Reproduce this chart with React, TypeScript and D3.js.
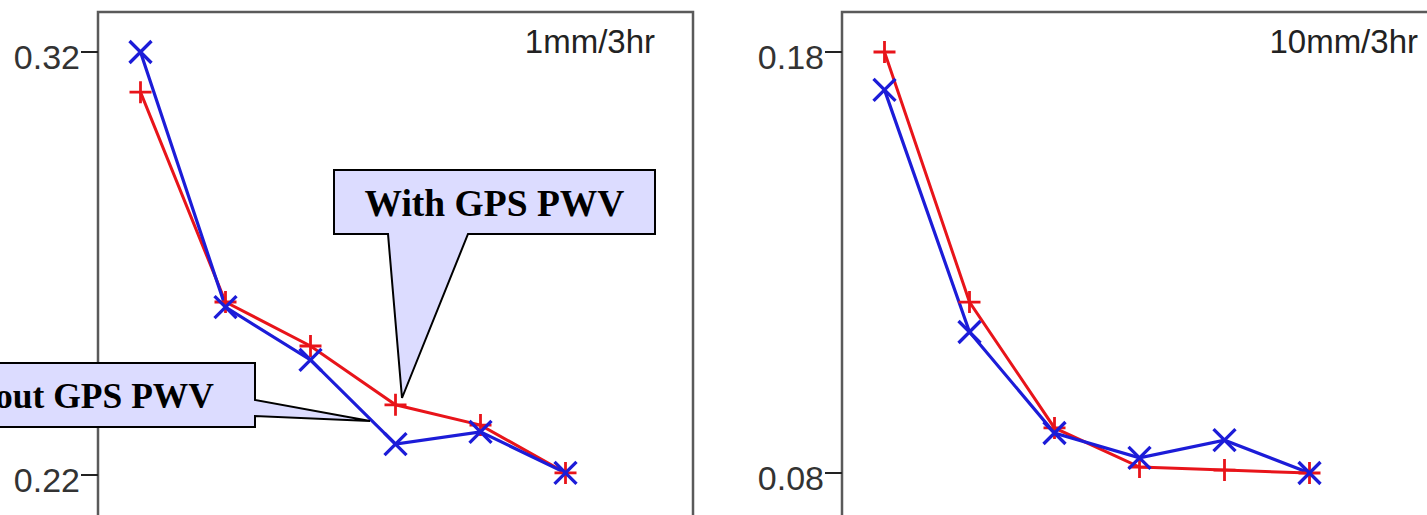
import React from "react";
import * as d3 from "d3";

const categories = [1, 2, 3, 4, 5, 6];
const leftWith = [0.3105, 0.2609, 0.2505, 0.2366, 0.2318, 0.2205];
const leftWithout = [0.32, 0.2597, 0.2472, 0.2273, 0.2302, 0.2205];
const rightWith = [0.18, 0.1206, 0.0907, 0.0814, 0.0807, 0.08];
const rightWithout = [0.171, 0.1135, 0.0895, 0.0836, 0.0878, 0.08];
const leftTicks = [0.22, 0.32];
const rightTicks = [0.08, 0.18];
const leftTitle = "1mm/3hr";
const rightTitle = "10mm/3hr";
const withLabel = "With GPS PWV";
const withoutLabel = "Without GPS PWV";

const W = 1427;
const H = 515;
const RED = "#e8141a";
const BLUE = "#1c1cd8";

type PanelProps = {
  left: number;
  yDomain: [number, number];
  yRange: [number, number];
  ticks: number[];
  title: string;
  titleX: number;
  red: number[];
  blue: number[];
};

function Panel({ left, yDomain, yRange, ticks, title, titleX, red, blue }: PanelProps) {
  const x = d3.scaleLinear().domain([0.5, 7.5]).range([left, left + 595]);
  const y = d3.scaleLinear().domain(yDomain).range(yRange);
  const line = d3
    .line<number>()
    .x((_, i) => x(categories[i]))
    .y((d) => y(d));
  const fmt = d3.format(".2f");
  return (
    <g>
      <rect x={left} y={12} width={595} height={600} fill="#fff" stroke="#5a5a5a" strokeWidth={2.5} />
      {ticks.map((t) => (
        <g key={t}>
          <line x1={left - 17} x2={left} y1={y(t)} y2={y(t)} stroke="#222" strokeWidth={2} />
          <text
            x={left - 18}
            y={y(t) + 17}
            textAnchor="end"
            fontFamily="'Liberation Sans', Arial, Helvetica, sans-serif"
            fontSize={34}
            fill="#333"
          >
            {fmt(t)}
          </text>
        </g>
      ))}
      <text
        x={titleX}
        y={53}
        textAnchor="end"
        fontFamily="'Liberation Sans', Arial, Helvetica, sans-serif"
        fontSize={33}
        fill="#222"
      >
        {title}
      </text>
      <path d={line(red) || ""} fill="none" stroke={RED} strokeWidth={3} />
      <path d={line(blue) || ""} fill="none" stroke={BLUE} strokeWidth={3.2} />
      {red.map((v, i) => {
        const cx = x(categories[i]);
        const cy = y(v);
        return (
          <path
            key={"r" + i}
            d={`M${cx - 11},${cy}H${cx + 11}M${cx},${cy - 11}V${cy + 11}`}
            stroke={RED}
            strokeWidth={2.8}
          />
        );
      })}
      {blue.map((v, i) => {
        const cx = x(categories[i]);
        const cy = y(v);
        const s = 11;
        return (
          <path
            key={"b" + i}
            d={`M${cx - s},${cy - s}L${cx + s},${cy + s}M${cx - s},${cy + s}L${cx + s},${cy - s}`}
            stroke={BLUE}
            strokeWidth={3.3}
          />
        );
      })}
    </g>
  );
}

export default function App() {
  return (
    <svg
      width={W}
      height={H}
      style={{ position: "absolute", left: 0, top: 0, background: "#fff" }}
    >
      <Panel
        left={98}
        yDomain={[0.22, 0.32]}
        yRange={[475, 52]}
        ticks={leftTicks}
        title={leftTitle}
        titleX={655}
        red={leftWith}
        blue={leftWithout}
      />
      <Panel
        left={842}
        yDomain={[0.08, 0.18]}
        yRange={[473, 52]}
        ticks={rightTicks}
        title={rightTitle}
        titleX={1418}
        red={rightWith}
        blue={rightWithout}
      />
      <path
        d="M334,170H655V234H468L402,398L388,234H334Z"
        fill="#dcdcff"
        stroke="#000"
        strokeWidth={2}
      />
      <text
        x={494.5}
        y={216}
        textAnchor="middle"
        fontFamily="'Liberation Serif', 'Times New Roman', serif"
        fontWeight="bold"
        fontSize={37.5}
        fill="#000"
      >
        {withLabel}
      </text>
      <path
        d="M-140,363H255V400L370,421L255,416V427H-140Z"
        fill="#dcdcff"
        stroke="#000"
        strokeWidth={2}
      />
      <text
        x={214}
        y={408}
        textAnchor="end"
        fontFamily="'Liberation Serif', 'Times New Roman', serif"
        fontWeight="bold"
        fontSize={35.5}
        fill="#000"
      >
        {withoutLabel}
      </text>
    </svg>
  );
}
